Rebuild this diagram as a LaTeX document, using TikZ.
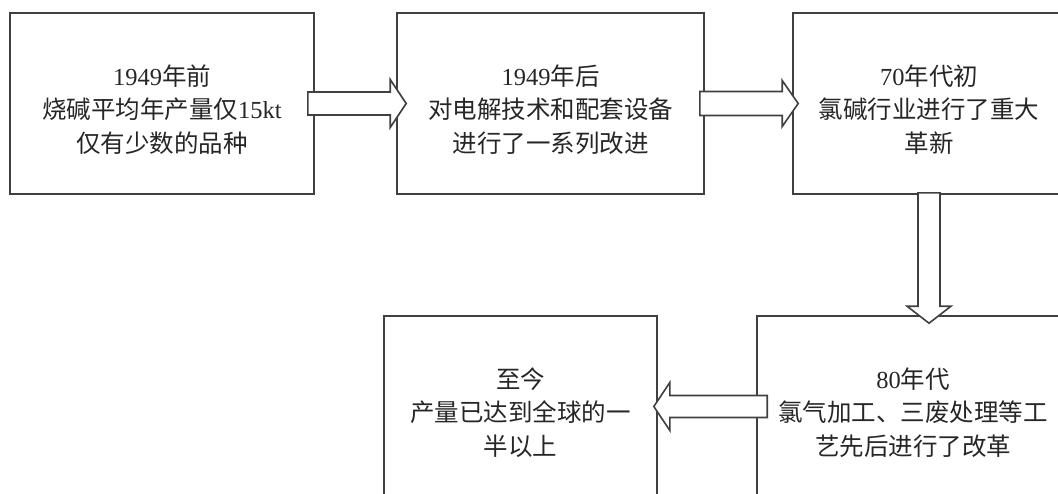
\documentclass[tikz,border=0pt]{standalone}
\usepackage{fontspec}
\setmainfont{Liberation Serif}
\newfontfamily\cjk{Noto Sans CJK SC}
\usetikzlibrary{calc}
\begin{document}
\begin{tikzpicture}[x=0.5pt,y=-0.5pt,
  box/.style={draw=black!75, line width=0.8pt, rectangle, inner sep=0pt,
    minimum height=90.5pt},
  txt/.style={inner sep=0pt, align=center,
    font=\fontsize{12.25}{16.6}\selectfont, text=black!85},
  blk/.style={draw=black!75, line width=0.8pt, fill=white, line join=miter}]
\useasboundingbox (0,0) rectangle (1058,493);
\clip (0,0) rectangle (1058,493);
\node[box, minimum width=152pt] (b1) at (162,103.5) {};
\node[box, minimum width=153.5pt] (b2) at (550.5,103.5) {};
\node[box, minimum width=136pt] (b3) at (929,103.5) {};
\node[box, minimum width=156pt] (b4) at (913,406.5) {};
\node[box, minimum width=136.5pt] (b5) at (520.5,406.5) {};
\node[txt] (t1) at ($(b1.center)+(0,6)$)
  {1949{\cjk 年前}\\{\cjk 烧碱平均年产量仅}15kt\\{\cjk 仅有少数的品种}};
\node[txt] (t2) at ($(b2.center)+(0,6)$)
  {1949{\cjk 年后}\\{\cjk 对电解技术和配套设备}\\{\cjk 进行了一系列改进}};
\node[txt] (t3t) at ($(b3.center)+(0,6)$)
  {70{\cjk 年代初}\\{\cjk 氯碱行业进行了重大}\\{\cjk 革新}};
\node[txt] (t4) at ($(b4.center)+(0,6)$)
  {80{\cjk 年代}\\{\cjk 氯气加工、三废处理等工}\\{\cjk 艺先后进行了改革}};
\node[txt] (t5) at ($(b5.center)+(0,6)$)
  {{\cjk 至今}\\{\cjk 产量已达到全球的一}\\{\cjk 半以上}};
% arrow b1 -> b2
\draw[blk] ($(b1.east)+(-7,-11.5)$) -- ($(b2.west)+(-6,-11.5)$) -- ($(b2.west)+(-6,-24)$)
  -- ($(b2.west)+(10,0)$) -- ($(b2.west)+(-6,24)$) -- ($(b2.west)+(-6,11.5)$)
  -- ($(b1.east)+(-7,11.5)$) -- cycle;
% arrow b2 -> b3
\draw[blk] ($(b2.east)+(-5,-12)$) -- ($(b3.west)+(-10,-12)$) -- ($(b3.west)+(-10,-23)$)
  -- ($(b3.west)+(6,0)$) -- ($(b3.west)+(-10,23)$) -- ($(b3.west)+(-10,12)$)
  -- ($(b2.east)+(-5,12)$) -- cycle;
% arrow b3 -> b4
\coordinate (t3) at (b3.south |- b4.north);
\draw[blk] ($(b3.south)+(-11,-2)$) -- ($(t3)+(-11,-9)$) -- ($(t3)+(-22,-9)$)
  -- ($(t3)+(0,8)$) -- ($(t3)+(22,-9)$) -- ($(t3)+(11,-9)$)
  -- ($(b3.south)+(11,-2)$) -- cycle;
% arrow b4 -> b5
\draw[blk] ($(b4.west)+(11,-11)$) -- ($(b5.east)+(12,-11)$) -- ($(b5.east)+(12,-24)$)
  -- ($(b5.east)+(-4,0)$) -- ($(b5.east)+(12,24)$) -- ($(b5.east)+(12,11)$)
  -- ($(b4.west)+(11,11)$) -- cycle;
\end{tikzpicture}
\end{document}
